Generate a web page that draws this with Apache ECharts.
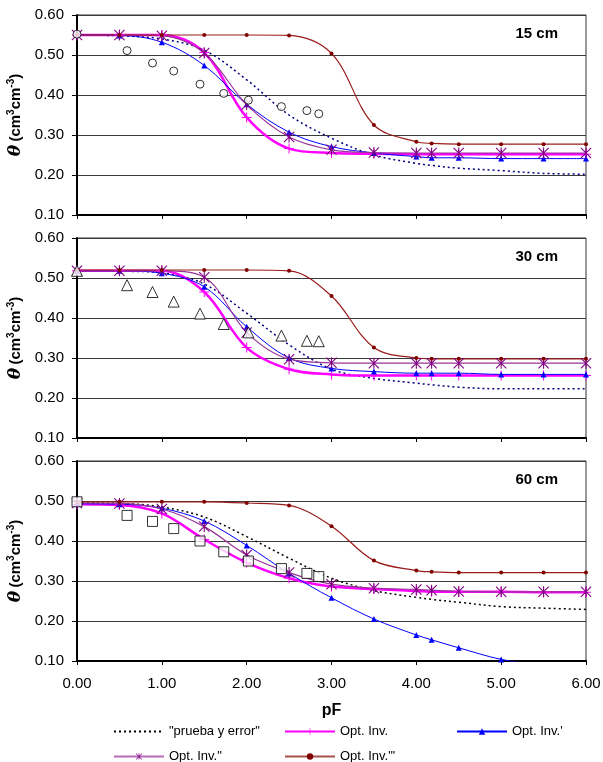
<!DOCTYPE html>
<html>
<head>
<meta charset="utf-8">
<script src="https://cdn.jsdelivr.net/npm/echarts@6/dist/echarts.min.js"></script>
<style>
html, body { margin: 0; padding: 0; background: #fff; }
#chart { width: 603px; height: 762px; }
</style>
</head>
<body>
<div id="chart"></div>
<script>
// pF points of the model curves and of the measured values
const pF = [0, 0.5, 1, 1.5, 2, 2.5, 3, 3.5, 4, 4.18, 4.5, 5, 5.5, 6];
const obsPF = [0, 0.59, 0.89, 1.14, 1.45, 1.73, 2.02, 2.41, 2.71, 2.85];

// 15 cm
const prueba15 = [0.550, 0.548, 0.540, 0.512, 0.438, 0.350, 0.292, 0.250, 0.229, 0.224, 0.217, 0.211, 0.204, 0.202];
const inv15 = [0.550, 0.550, 0.550, 0.506, 0.344, 0.266, 0.255, 0.253, 0.252, 0.252, 0.252, 0.252, 0.252, 0.252];
const invA15 = [0.550, 0.549, 0.532, 0.474, 0.377, 0.307, 0.271, 0.255, 0.246, 0.243, 0.243, 0.241, 0.241, 0.241];
const invB15 = [0.550, 0.550, 0.548, 0.505, 0.376, 0.295, 0.263, 0.256, 0.255, 0.255, 0.255, 0.255, 0.255, 0.255];
const invC15 = [0.550, 0.550, 0.550, 0.550, 0.550, 0.549, 0.504, 0.325, 0.283, 0.279, 0.277, 0.277, 0.277, 0.277];
const obs15 = [0.552, 0.511, 0.480, 0.460, 0.427, 0.404, 0.387, 0.371, 0.361, 0.353];

// 30 cm
const prueba30 = [0.518, 0.517, 0.513, 0.485, 0.412, 0.333, 0.272, 0.249, 0.237, 0.233, 0.227, 0.223, 0.223, 0.223];
const inv30 = [0.518, 0.518, 0.518, 0.465, 0.326, 0.272, 0.259, 0.256, 0.256, 0.256, 0.256, 0.256, 0.256, 0.256];
const invA30 = [0.518, 0.518, 0.512, 0.478, 0.378, 0.300, 0.274, 0.266, 0.262, 0.262, 0.262, 0.259, 0.259, 0.259];
const invB30 = [0.518, 0.518, 0.518, 0.502, 0.364, 0.297, 0.288, 0.287, 0.287, 0.287, 0.287, 0.287, 0.287, 0.287];
const invC30 = [0.520, 0.520, 0.520, 0.520, 0.520, 0.518, 0.455, 0.326, 0.300, 0.298, 0.298, 0.298, 0.298, 0.298];
const obs30 = [0.518, 0.482, 0.465, 0.441, 0.411, 0.385, 0.364, 0.356, 0.343, 0.342];

// 60 cm
const prueba60 = [0.495, 0.494, 0.485, 0.460, 0.411, 0.357, 0.307, 0.276, 0.259, 0.254, 0.247, 0.236, 0.232, 0.229];
const inv60 = [0.492, 0.490, 0.469, 0.404, 0.346, 0.307, 0.286, 0.280, 0.275, 0.273, 0.273, 0.273, 0.272, 0.272];
const invA60 = [0.493, 0.492, 0.482, 0.450, 0.389, 0.319, 0.258, 0.205, 0.165, 0.153, 0.133, 0.104, 0.088, 0.070];
const invB60 = [0.495, 0.494, 0.480, 0.436, 0.365, 0.321, 0.292, 0.282, 0.279, 0.277, 0.274, 0.273, 0.273, 0.273];
const invC60 = [0.498, 0.498, 0.498, 0.498, 0.495, 0.489, 0.437, 0.351, 0.326, 0.323, 0.321, 0.321, 0.321, 0.321];
const obs60 = [0.498, 0.464, 0.449, 0.431, 0.400, 0.373, 0.350, 0.331, 0.319, 0.311];

const depths = ['15 cm', '30 cm', '60 cm'];

const panels = [
    { prueba: prueba15, inv: inv15, invA: invA15, invB: invB15, invC: invC15, obs: obs15, obsSymbol: 'circle', obsSize: 8, dotColor: '#000080' },
    { prueba: prueba30, inv: inv30, invA: invA30, invB: invB30, invC: invC30, obs: obs30, obsSymbol: 'triangle', obsSize: 11, dotColor: '#000080' },
    { prueba: prueba60, inv: inv60, invA: invA60, invB: invB60, invC: invC60, obs: obs60, obsSymbol: 'rect', obsSize: 10, dotColor: '#000000' }
];

const FONT = 'Liberation Sans, Arial, sans-serif';
const plusPath = 'path://M4.5,0 L5.5,0 L5.5,4.5 L10,4.5 L10,5.5 L5.5,5.5 L5.5,10 L4.5,10 L4.5,5.5 L0,5.5 L0,4.5 L4.5,4.5 Z';
const starPath = 'path://M4.5,0 L5.5,0 L5.5,10 L4.5,10 Z M0.7,0 L10,9.3 L9.3,10 L0,0.7 Z M9.3,0 L10,0.7 L0.7,10 L0,9.3 Z';

const pair = (xs, ys) => xs.map((x, i) => [x, ys[i]]);

const gridTops = [15, 238, 461];
const grids = gridTops.map(t => ({
    left: 77, top: t, width: 509, height: 200,
    containLabel: false, outerBoundsMode: 'none',
    show: true, borderColor: '#333', borderWidth: 1
}));

const xAxes = gridTops.map((t, i) => ({
    type: 'value', gridIndex: i, min: 0, max: 6, interval: 1,
    axisLine: { lineStyle: { color: '#000', width: 2 } },
    axisTick: { show: true, length: 4, lineStyle: { color: '#000' } },
    splitLine: { show: false },
    axisLabel: {
        show: i === 2, color: '#000', fontSize: 15, fontFamily: FONT, margin: 15,
        formatter: v => v.toFixed(2)
    },
    name: i === 2 ? 'pF' : '',
    nameLocation: 'middle', nameGap: 42,
    nameTextStyle: { color: '#000', fontSize: 16, fontWeight: 'bold', fontFamily: FONT }
}));

const yAxes = gridTops.map((t, i) => ({
    type: 'value', gridIndex: i, min: 0.1, max: 0.6, interval: 0.1,
    axisLine: { show: true, lineStyle: { color: '#000', width: 2 } },
    axisTick: { show: true, length: 5, lineStyle: { color: '#000' } },
    splitLine: { show: true, lineStyle: { color: '#3a3a3a', width: 1 } },
    axisLabel: { color: '#000', fontSize: 15, fontFamily: FONT, margin: 13, formatter: v => v.toFixed(2) },
    name: '{t|θ} {a|(cm}{s|3}{a|cm}{s|-3}{a|)}',
    nameLocation: 'middle', nameGap: 51, nameRotate: 90,
    nameTextStyle: {
        rich: {
            t: { fontSize: 17, fontWeight: 'bold', fontStyle: 'italic', fontFamily: 'DejaVu Serif, serif', color: '#000' },
            a: { fontSize: 15, fontWeight: 'bold', fontFamily: FONT, color: '#000' },
            s: { fontSize: 10, fontWeight: 'bold', fontFamily: FONT, color: '#000', padding: [0, 0, 9, 0] }
        }
    }
}));

const series = [];
panels.forEach((p, i) => {
    const base = { type: 'line', xAxisIndex: i, yAxisIndex: i, smooth: 0.35, clip: true, z: 3 };
    series.push(Object.assign({}, base, {
        name: '"prueba y error"', data: pair(pF, p.prueba), showSymbol: false, symbol: 'none',
        lineStyle: { color: p.dotColor, width: 1.5, type: [2, 3] }, itemStyle: { color: p.dotColor }
    }));
    series.push(Object.assign({}, base, {
        name: 'Opt. Inv.', data: pair(pF, p.inv), symbol: plusPath, symbolSize: 10,
        lineStyle: { color: '#ff00ff', width: 2.5 }, itemStyle: { color: '#ff00ff' }
    }));
    series.push(Object.assign({}, base, {
        name: "Opt. Inv.'", data: pair(pF, p.invA), symbol: 'triangle', symbolSize: 6,
        lineStyle: { color: '#0000ff', width: 1 }, itemStyle: { color: '#0000ff' }
    }));
    series.push(Object.assign({}, base, {
        name: 'Opt. Inv."', data: pair(pF, p.invB), symbol: starPath, symbolSize: 11,
        lineStyle: { color: '#993399', width: 1.2 }, itemStyle: { color: '#800080' }
    }));
    series.push(Object.assign({}, base, {
        name: 'Opt. Inv."\'', data: pair(pF, p.invC), symbol: 'circle', symbolSize: 4,
        lineStyle: { color: '#9a1c1c', width: 1.2 }, itemStyle: { color: '#800000' }
    }));
    series.push({
        name: 'obs' + depths[i], type: 'scatter', xAxisIndex: i, yAxisIndex: i,
        data: pair(obsPF, p.obs), symbol: p.obsSymbol, symbolSize: p.obsSize, z: 4,
        itemStyle: { color: '#fff', borderColor: '#000', borderWidth: 1 }
    });
});

const legendBase = {
    orient: 'vertical', top: 724, padding: 0, height: 80,
    itemWidth: 50, itemHeight: 8, itemGap: 10,
    textStyle: { color: '#000', fontSize: 13, fontFamily: FONT, lineHeight: 15 },
    selectedMode: false
};

const chart = echarts.init(document.getElementById('chart'));
chart.setOption({
    backgroundColor: '#fff',
    animation: false,
    grid: grids,
    xAxis: xAxes,
    yAxis: yAxes,
    series: series,
    legend: [
        Object.assign({}, legendBase, {
            left: 113,
            data: [
                { name: '"prueba y error"', itemStyle: { opacity: 0 }, lineStyle: { color: '#000' } },
                { name: 'Opt. Inv."', lineStyle: { color: '#b86ab8' } }
            ]
        }),
        Object.assign({}, legendBase, {
            left: 284,
            data: ['Opt. Inv.', { name: 'Opt. Inv."\'', lineStyle: { color: '#a8504c' } }]
        }),
        Object.assign({}, legendBase, { left: 456, data: ["Opt. Inv.'"] })
    ],
    graphic: depths.map((d, i) => ({
        type: 'text', right: 45, top: gridTops[i] + 11,
        style: { text: d, font: 'bold 15px ' + FONT, fill: '#000' }
    }))
});
</script>
</body>
</html>
